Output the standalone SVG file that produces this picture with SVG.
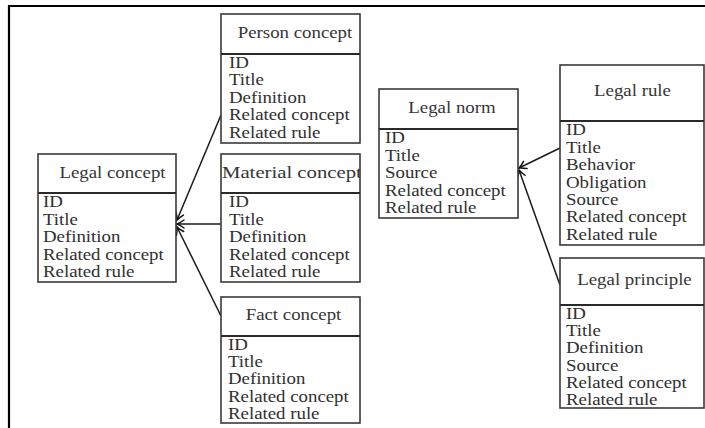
<svg xmlns="http://www.w3.org/2000/svg" width="705" height="428" viewBox="0 0 705 428">
  <style>
    .box { fill: #ffffff; stroke: #3a3a3a; stroke-width: 1.6; }
    .div { stroke: #2a2a2a; stroke-width: 1.8; }
    .hdr { font-family: "Liberation Serif", "Times New Roman", serif; font-size: 15.7px; fill: #363636; text-anchor: middle; }
    .row { font-family: "Liberation Serif", "Times New Roman", serif; font-size: 15.7px; fill: #303030; }
    .frame { stroke: #000000; stroke-width: 2.2; fill: none; }
    .edge { stroke: #1a1a1a; stroke-width: 1.5; fill: none; marker-end: url(#head); }
  </style>
  <defs>
    <marker id="head" markerUnits="userSpaceOnUse" markerWidth="12" markerHeight="12" viewBox="-8 -6 10 12" refX="0" refY="0" orient="auto">
      <path d="M -7 -4 Q -2.5 -0.8 0 0 Q -2.5 0.8 -7 4" fill="none" stroke="#111111" stroke-width="1.5" stroke-linecap="round"/>
    </marker>
    <clipPath id="clipMaterial">
      <rect x="221" y="154" width="139" height="39"/>
    </clipPath>
  </defs>

  <rect width="705" height="428" fill="#ffffff"/>

  <!-- page frame -->
  <path class="frame" d="M 9 428 L 9 6 L 705 6"/>

  <!-- connectors -->
  <g id="connectors">
    <line class="edge" x1="221" y1="115" x2="177" y2="220"/>
    <line class="edge" x1="221" y1="224" x2="177" y2="224"/>
    <line class="edge" x1="221" y1="316" x2="177" y2="227"/>
    <line class="edge" x1="560" y1="148" x2="519" y2="168"/>
    <line class="edge" x1="560" y1="285" x2="519" y2="170"/>
  </g>

  <!-- Person concept -->
  <g id="person-concept">
    <rect class="box" x="221" y="14" width="139" height="129"/>
    <line class="div" x1="221" y1="54" x2="360" y2="54"/>
    <g transform="translate(295,0) scale(1.2,1)">
      <text class="hdr" x="0" y="38">Person concept</text>
    </g>
    <g transform="translate(229,0) scale(1.2,1)">
      <text class="row" x="0" y="68">ID</text>
      <text class="row" x="0" y="85.4">Title</text>
      <text class="row" x="0" y="102.8">Definition</text>
      <text class="row" x="0" y="120.2">Related concept</text>
      <text class="row" x="0" y="137.6">Related rule</text>
    </g>
  </g>

  <!-- Material concept: header text runs into the right border and is cut there -->
  <g id="material-concept">
    <rect class="box" x="221" y="154" width="139" height="128"/>
    <line class="div" x1="221" y1="193" x2="360" y2="193"/>
    <g clip-path="url(#clipMaterial)">
      <g transform="translate(222,0) scale(1.2,1)">
        <text class="hdr" x="0" y="178" style="text-anchor:start" textLength="116.5" lengthAdjust="spacingAndGlyphs">Material concept</text>
      </g>
    </g>
    <g transform="translate(229,0) scale(1.2,1)">
      <text class="row" x="0" y="207.5">ID</text>
      <text class="row" x="0" y="224.9">Title</text>
      <text class="row" x="0" y="242.3">Definition</text>
      <text class="row" x="0" y="259.7">Related concept</text>
      <text class="row" x="0" y="277.1">Related rule</text>
    </g>
  </g>

  <!-- Fact concept -->
  <g id="fact-concept">
    <rect class="box" x="221" y="297" width="139" height="126"/>
    <line class="div" x1="221" y1="336" x2="360" y2="336"/>
    <g transform="translate(293.5,0) scale(1.2,1)">
      <text class="hdr" x="0" y="320.5">Fact concept</text>
    </g>
    <g transform="translate(228,0) scale(1.2,1)">
      <text class="row" x="0" y="350">ID</text>
      <text class="row" x="0" y="367.2">Title</text>
      <text class="row" x="0" y="384.4">Definition</text>
      <text class="row" x="0" y="401.6">Related concept</text>
      <text class="row" x="0" y="418.8">Related rule</text>
    </g>
  </g>

  <!-- Legal concept -->
  <g id="legal-concept">
    <rect class="box" x="38" y="154" width="138" height="128"/>
    <line class="div" x1="38" y1="193" x2="176" y2="193"/>
    <g transform="translate(112.5,0) scale(1.2,1)">
      <text class="hdr" x="0" y="178">Legal concept</text>
    </g>
    <g transform="translate(43,0) scale(1.2,1)">
      <text class="row" x="0" y="207.5">ID</text>
      <text class="row" x="0" y="224.9">Title</text>
      <text class="row" x="0" y="242.3">Definition</text>
      <text class="row" x="0" y="259.7">Related concept</text>
      <text class="row" x="0" y="277.1">Related rule</text>
    </g>
  </g>

  <!-- Legal norm -->
  <g id="legal-norm">
    <rect class="box" x="379" y="89" width="139" height="129"/>
    <line class="div" x1="379" y1="129" x2="518" y2="129"/>
    <g transform="translate(452,0) scale(1.2,1)">
      <text class="hdr" x="0" y="113">Legal norm</text>
    </g>
    <g transform="translate(385,0) scale(1.2,1)">
      <text class="row" x="0" y="143.5">ID</text>
      <text class="row" x="0" y="160.9">Title</text>
      <text class="row" x="0" y="178.3">Source</text>
      <text class="row" x="0" y="195.7">Related concept</text>
      <text class="row" x="0" y="213.1">Related rule</text>
    </g>
  </g>

  <!-- Legal rule -->
  <g id="legal-rule">
    <rect class="box" x="560" y="65" width="144" height="180"/>
    <line class="div" x1="560" y1="121" x2="704" y2="121"/>
    <g transform="translate(632.5,0) scale(1.2,1)">
      <text class="hdr" x="0" y="96.5">Legal rule</text>
    </g>
    <g transform="translate(566,0) scale(1.2,1)">
      <text class="row" x="0" y="135.5">ID</text>
      <text class="row" x="0" y="152.9">Title</text>
      <text class="row" x="0" y="170.3">Behavior</text>
      <text class="row" x="0" y="187.7">Obligation</text>
      <text class="row" x="0" y="205.1">Source</text>
      <text class="row" x="0" y="222.5">Related concept</text>
      <text class="row" x="0" y="239.9">Related rule</text>
    </g>
  </g>

  <!-- Legal principle -->
  <g id="legal-principle">
    <rect class="box" x="560" y="258" width="144" height="150"/>
    <line class="div" x1="560" y1="305" x2="704" y2="305"/>
    <g transform="translate(634.5,0) scale(1.2,1)">
      <text class="hdr" x="0" y="285">Legal principle</text>
    </g>
    <g transform="translate(566,0) scale(1.2,1)">
      <text class="row" x="0" y="319">ID</text>
      <text class="row" x="0" y="336.2">Title</text>
      <text class="row" x="0" y="353.4">Definition</text>
      <text class="row" x="0" y="370.6">Source</text>
      <text class="row" x="0" y="387.8">Related concept</text>
      <text class="row" x="0" y="405">Related rule</text>
    </g>
  </g>
</svg>
